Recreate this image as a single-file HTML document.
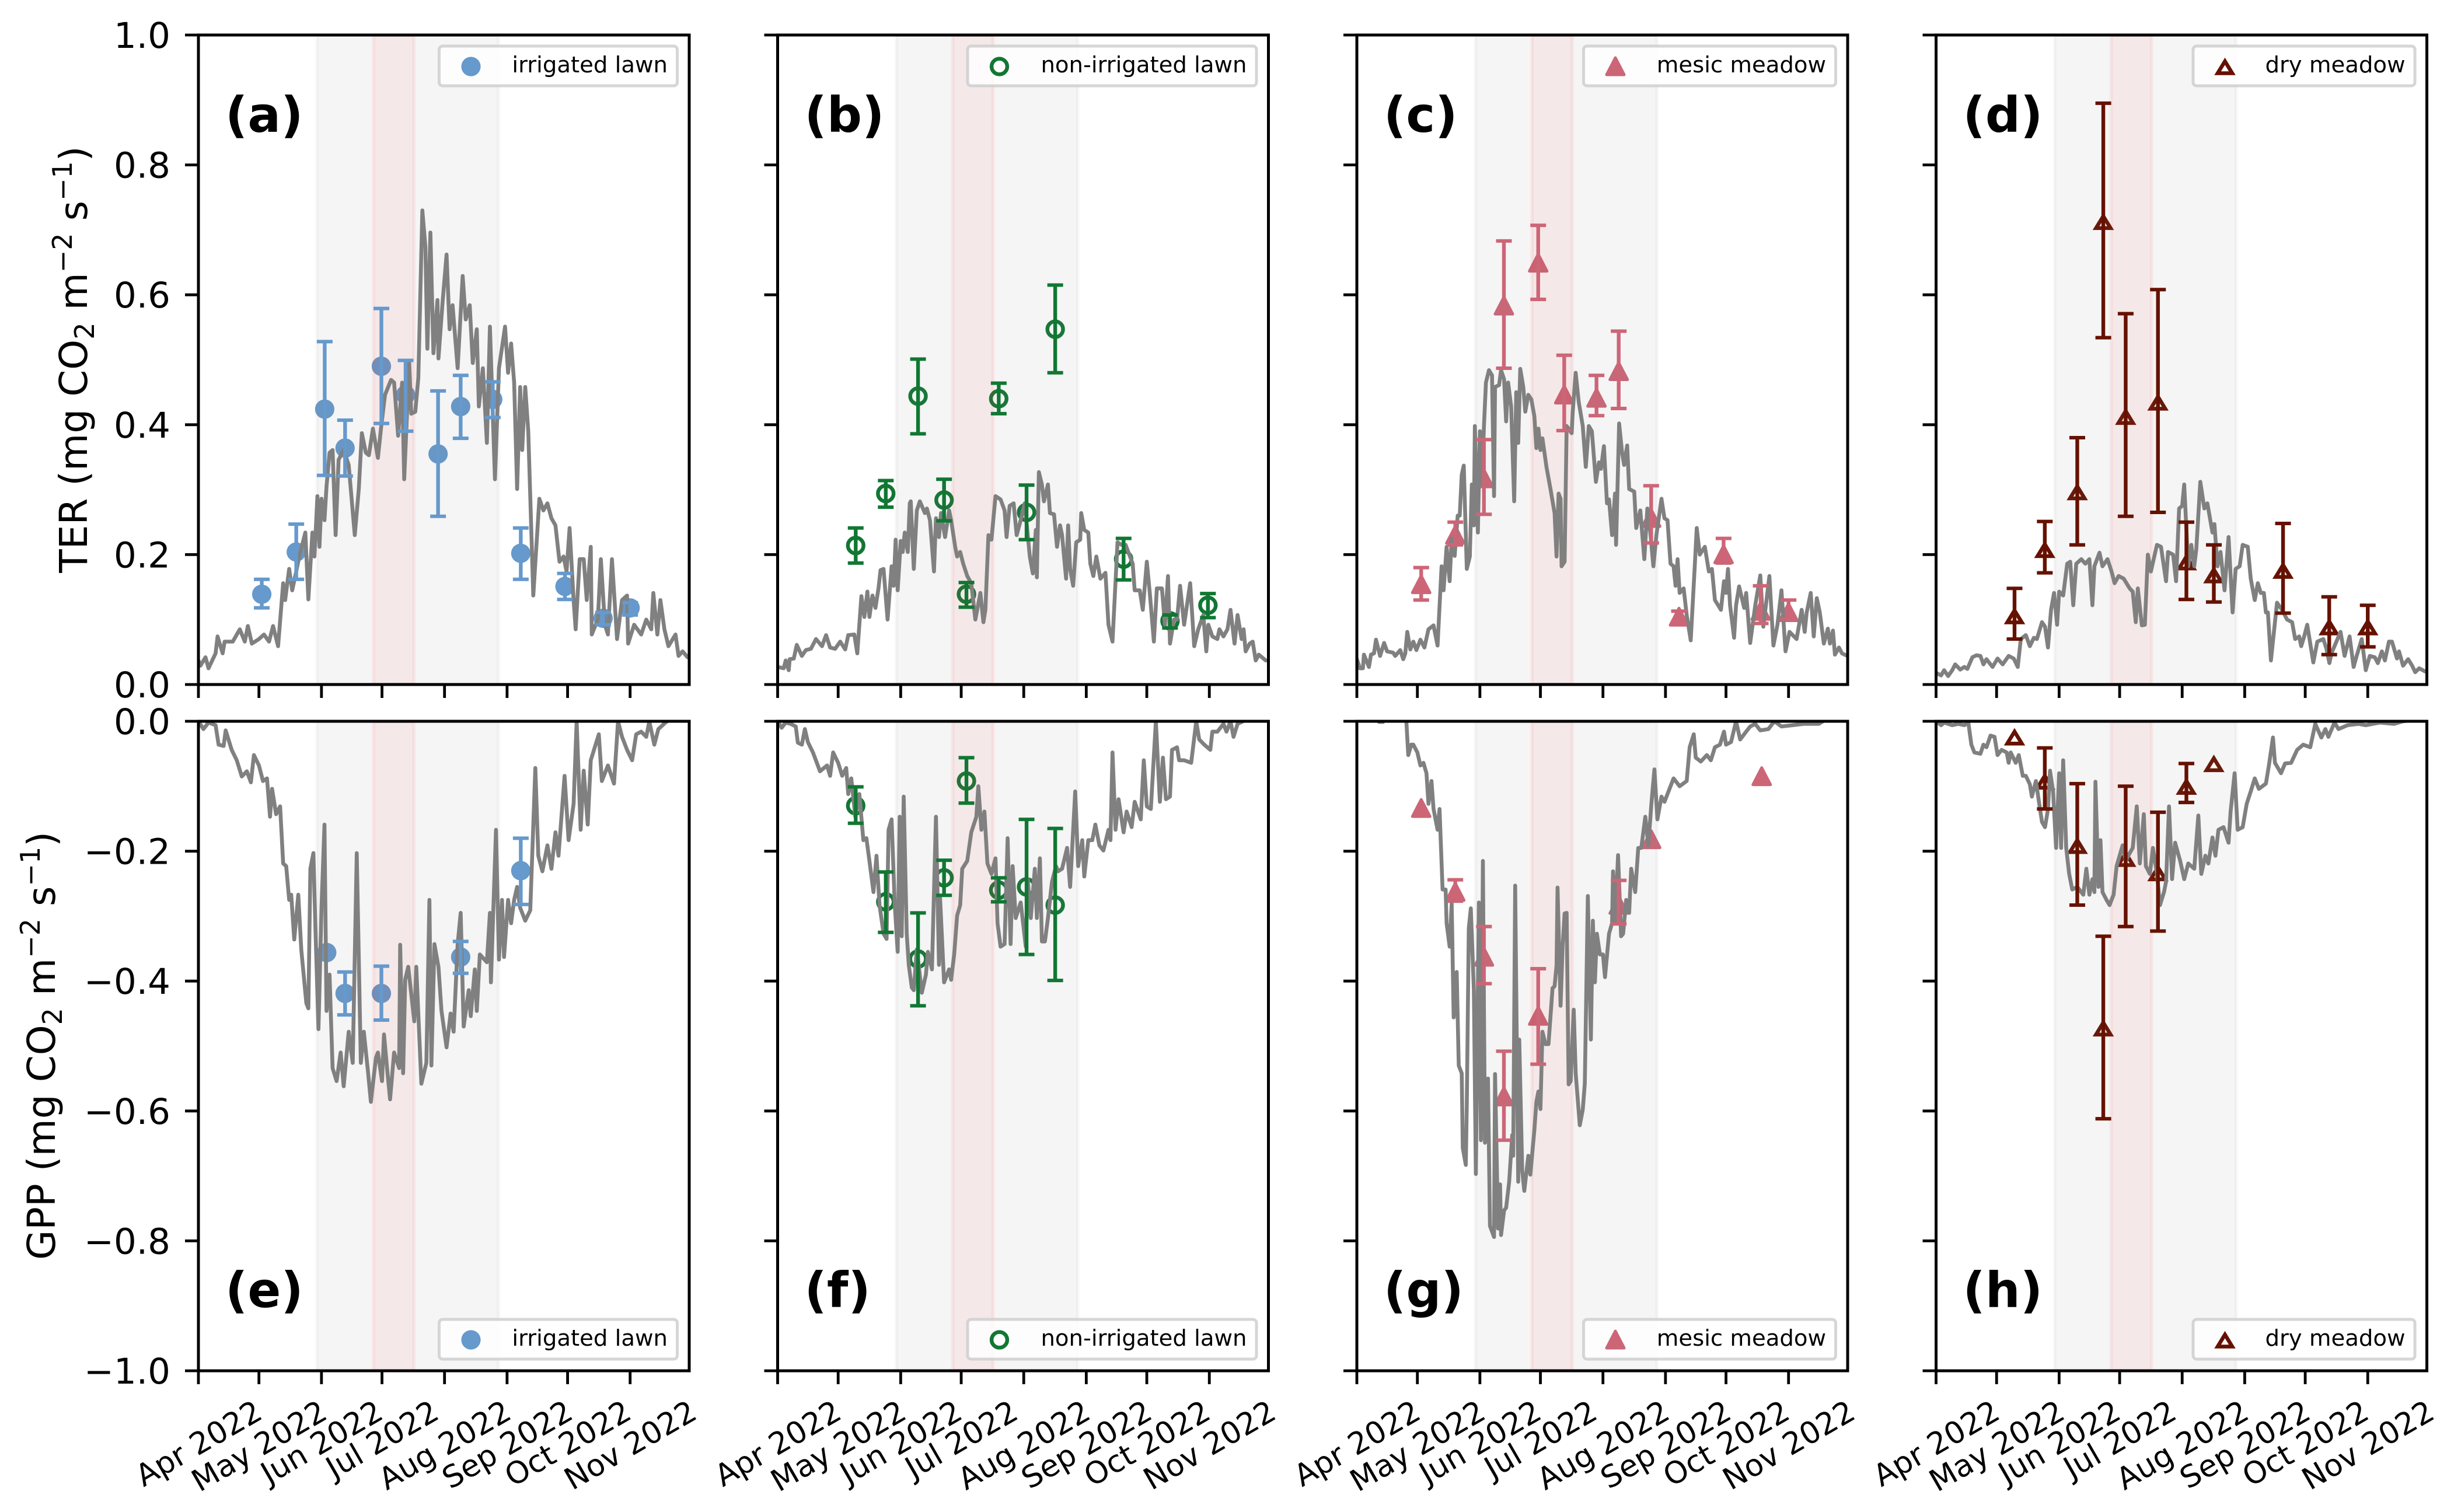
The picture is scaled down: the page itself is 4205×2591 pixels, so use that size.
<!DOCTYPE html>
<html lang="en">
<head>
<meta charset="utf-8">
<title>TER and GPP by land cover, Apr–Nov 2022</title>
<style>
html,body{margin:0;padding:0;background:#fff;}
svg{display:block;font-family:"DejaVu Sans","Liberation Sans",sans-serif;}
</style>
</head>
<body>
<svg id="chart" xmlns="http://www.w3.org/2000/svg" width="4205" height="2591" viewBox="0 0 4205 2591"></svg>
<script>
const tickDays=[0,30,61,91,122,153,183,214];
const tickLabels=["Apr 2022","May 2022","Jun 2022","Jul 2022","Aug 2022","Sep 2022","Oct 2022","Nov 2022"];
const terTicks=[0,0.2,0.4,0.6,0.8,1.0];
const terTickLabels=["0.0","0.2","0.4","0.6","0.8","1.0"];
const gppTicks=[0,-0.2,-0.4,-0.6,-0.8,-1.0];
const gppTickLabels=["0.0","−0.2","−0.4","−0.6","−0.8","−1.0"];
const greySpanDays=[58.8,148.8];
const redSpanDays=[86.8,106.8];

const aDays=[31.4,48.5,62.6,72.7,90.7,102.7,118.8,130,145.9,159.8,181.7,200.6,214];
const aMean=[.139,.204,.424,.364,.49,.446,.355,.428,.439,.202,.151,.102,.118];
const aLow=[.118,.162,.322,.321,.402,.39,.259,.379,.411,.162,.131,.092,.107];
const aHigh=[.162,.247,.528,.407,.579,.499,.452,.476,.466,.241,.171,.111,.126];
const bDays=[38.7,53.6,69.6,82.5,93.6,109.6,123.4,137.6,171.5,194.5,213.3];
const bMean=[.214,.294,.444,.284,.139,.44,.265,.547,.193,.098,.122];
const bLow=[.187,.273,.386,.252,.119,.417,.223,.48,.161,.087,.103];
const bHigh=[.241,.314,.501,.316,.157,.464,.307,.615,.225,.107,.14];
const cDays=[31.9,48.8,63,72.9,89.9,102.8,118.8,129.8,145.9,159.7,181.8,200.2,214];
const cMean=[.154,.23,.317,.583,.649,.446,.441,.482,.256,.104,.2,.113,.111];
const cLow=[.13,.215,.262,.487,.593,.391,.414,.425,.218,.094,.187,.094,.101];
const cHigh=[.18,.25,.377,.683,.707,.507,.476,.544,.306,.113,.225,.152,.13];
const dDays=[38.9,53.9,70,82.9,94,110,124.1,137.7,172,194.9,214];
const dMean=[.106,.208,.297,.713,.413,.435,.189,.169,.176,.089,.089];
const dLow=[.07,.172,.215,.534,.259,.265,.131,.127,.11,.046,.058];
const dHigh=[.148,.251,.38,.895,.571,.608,.25,.215,.248,.135,.122];
const eDays=[63.6,72.7,90.7,130,159.8];
const eMean=[-.356,-.419,-.419,-.363,-.23];
const eLow=[null,-.452,-.46,-.388,-.282];
const eHigh=[null,-.386,-.377,-.339,-.18];
const fDays=[38.7,53.6,69.6,82.5,93.6,109.6,123.4,137.6];
const fMean=[-.13,-.278,-.366,-.241,-.092,-.26,-.255,-.283];
const fLow=[-.157,-.325,-.438,-.268,-.126,-.278,-.359,-.399];
const fHigh=[-.101,-.232,-.295,-.214,-.056,-.241,-.151,-.165];
const gDays=[31.9,48.8,63,72.9,89.9,129.8,145.9,200.7];
const gMean=[-.134,-.263,-.363,-.578,-.454,-.283,-.182,-.085];
const gLow=[null,-.277,-.404,-.645,-.528,-.312,null,null];
const gHigh=[null,-.244,-.316,-.508,-.381,-.245,null,null];
const hDays=[38.9,53.9,70,82.9,94,110,124.1,137.7];
const hMean=[-.024,-.092,-.191,-.472,-.211,-.233,-.1,-.065];
const hLow=[null,-.135,-.283,-.612,-.316,-.323,-.125,null];
const hHigh=[null,-.041,-.096,-.331,-.1,-.14,-.065,null];

const lineA=[[0,.037],[1,.029],[3.5,.042],[5,.025],[8.5,.048],[9.5,.074],[12,.048],[13,.066],[17,.066],[20.5,.085],[23,.066],[24.5,.09],[26.5,.063],[30,.07],[32.5,.077],[35,.066],[37,.09],[39.5,.059],[42,.156],[43,.13],[45,.178],[46.5,.145],[48.5,.174],[50,.197],[53,.234],[54.5,.131],[56.5,.234],[57.5,.197],[59,.29],[60,.212],[61,.286],[62.5,.253],[63.5,.305],[65,.357],[66.5,.361],[68,.23],[69.5,.346],[72,.361],[74.5,.338],[77.5,.23],[79.5,.301],[81,.387],[83,.357],[84.5,.353],[86.5,.394],[89,.349],[90.5,.394],[92.5,.446],[95.5,.469],[97,.465],[99,.383],[101,.465],[102,.316],[104.5,.495],[105.5,.417],[107.5,.42],[109,.472],[111,.73],[112.5,.674],[113.5,.517],[115,.696],[116.5,.51],[118.5,.592],[119,.502],[121,.588],[123,.662],[124.5,.547],[126,.584],[128.5,.487],[131,.629],[132.5,.562],[134.5,.584],[136,.495],[138,.547],[139,.428],[141,.487],[143,.372],[144.5,.551],[147,.316],[149,.487],[152,.551],[153.5,.48],[155,.525],[156.5,.465],[158,.301],[159.5,.458],[160.5,.361],[162,.458],[163.5,.39],[166,.137],[169,.286],[171,.268],[173,.279],[175,.256],[177,.245],[179,.189],[181,.197],[182.5,.174],[184,.241],[186,.13],[187,.085],[189,.193],[191,.193],[192.5,.13],[194.5,.212],[195,.077],[198,.1],[199.5,.193],[201.5,.092],[203,.077],[205,.193],[207.5,.07],[210,.13],[212.5,.137],[213,.063],[216,.092],[219.5,.077],[222,.1],[224.5,.085],[225.5,.141],[227.5,.077],[229,.13],[231,.085],[233,.059],[236.5,.077],[238,.044],[240,.051],[242.5,.042]];
const lineB=[[0,.027],[3,.025],[4,.037],[5.5,.022],[6,.039],[8,.04],[9.5,.061],[12,.044],[14,.053],[16.5,.055],[19,.07],[22,.059],[24,.076],[26,.057],[28.5,.055],[31,.066],[33.5,.054],[35,.076],[38,.077],[39.5,.048],[41.5,.136],[43,.104],[44.5,.143],[45.5,.104],[47,.137],[48.5,.118],[50,.148],[51,.176],[52.5,.178],[54.5,.1],[56.5,.182],[57.5,.152],[58.5,.223],[59.5,.145],[61,.221],[62,.204],[63,.234],[64.5,.204],[65.5,.279],[66,.282],[67.5,.178],[69,.268],[70.5,.282],[73,.264],[74,.271],[75.5,.253],[77.5,.174],[78.5,.256],[80,.227],[81,.264],[83,.227],[85,.268],[86,.253],[88,.212],[89,.197],[90.5,.204],[92,.186],[94,.167],[96,.156],[98,.1],[100.5,.141],[102,.096],[103,.115],[104.5,.23],[106,.223],[108,.29],[110.5,.285],[112.5,.268],[113.5,.227],[115,.275],[117,.279],[118.5,.23],[120.5,.253],[122.5,.279],[125,.197],[126.5,.171],[128,.238],[128.5,.165],[129.5,.327],[131,.308],[132,.282],[134,.308],[135,.264],[137,.262],[138.5,.212],[140,.245],[141,.23],[143,.163],[144,.245],[145,.178],[146.5,.152],[148,.219],[150,.223],[150.5,.264],[152,.238],[154,.234],[155,.186],[156.5,.167],[158,.197],[160,.163],[162.5,.172],[164,.092],[166,.066],[168.5,.219],[170.5,.215],[172.5,.215],[176,.186],[177,.145],[179.5,.145],[181,.115],[183,.189],[184.5,.141],[186.5,.066],[188,.148],[190.5,.148],[192,.092],[193.5,.167],[194.5,.063],[196.5,.1],[198,.1],[199.5,.152],[201.5,.092],[204.5,.156],[206.5,.059],[208.5,.085],[211,.107],[212.5,.051],[213.5,.092],[215.5,.074],[218,.07],[219,.085],[221,.074],[223,.085],[224.5,.115],[226.5,.063],[228,.107],[230,.07],[231,.085],[232,.051],[234,.063],[235.5,.066],[237,.037],[238.5,.046],[242,.037]];
const lineC=[[0,.039],[1.5,.025],[3,.025],[3.5,.046],[6,.027],[7,.046],[8.5,.048],[9.5,.069],[11.5,.044],[13.5,.064],[15,.051],[18,.049],[19,.044],[21.5,.053],[23,.039],[24,.048],[25,.081],[26.5,.054],[28,.066],[29.5,.053],[31.5,.069],[33.5,.057],[35.5,.085],[38,.091],[40,.06],[42,.182],[43,.145],[44.5,.212],[46,.159],[47,.225],[48.5,.198],[50,.26],[51,.26],[52,.323],[53,.337],[54.5,.178],[56,.197],[57,.308],[58,.245],[58.5,.398],[60,.234],[61,.39],[62,.308],[63,.398],[64,.465],[65.5,.484],[67,.476],[68,.29],[68.5,.458],[70.5,.461],[71.5,.484],[73,.47],[74,.405],[75,.465],[76.5,.428],[78,.282],[79,.45],[80,.372],[81,.486],[82.5,.458],[83.5,.42],[85,.446],[86.5,.439],[88,.413],[89,.364],[90,.394],[91,.361],[92,.379],[94,.335],[96,.301],[98,.264],[99,.197],[100,.294],[101,.286],[101.5,.182],[103,.189],[104,.398],[106.5,.387],[107,.42],[108.5,.48],[110,.435],[112,.398],[113.5,.335],[115,.398],[116.5,.39],[118.5,.312],[120,.342],[121,.332],[122.5,.367],[124,.279],[125,.285],[126.5,.23],[128,.294],[128.5,.215],[130,.402],[131.5,.357],[132.5,.338],[134,.368],[135,.301],[137.5,.297],[138.5,.241],[140.5,.268],[142.5,.193],[144,.271],[145.5,.234],[147,.182],[148.5,.23],[151,.286],[152.5,.256],[154,.253],[155.5,.186],[157,.182],[158,.152],[159,.193],[160,.141],[162,.148],[163.5,.107],[165.5,.068],[167.5,.182],[168.5,.241],[170,.2],[172.5,.212],[174.5,.174],[176,.178],[177.5,.13],[180.5,.115],[182,.159],[183,.141],[184,.178],[185,.122],[187,.072],[188,.122],[189.5,.151],[192,.118],[193,.141],[195,.064],[197.5,.122],[200,.168],[201.5,.089],[204.5,.167],[206.5,.06],[208.5,.092],[210.5,.145],[212.5,.051],[214.5,.081],[218,.07],[220.5,.115],[222,.081],[223,.111],[225,.141],[226.5,.074],[228,.133],[229.5,.111],[231.5,.063],[233.5,.086],[234.5,.063],[236,.083],[237,.046],[239,.057],[240.5,.048],[242.5,.045]];
const lineD=[[0,.018],[2.5,.014],[4,.022],[6,.013],[8,.022],[9.5,.031],[12,.023],[14,.027],[15.5,.024],[18,.042],[20,.045],[22,.044],[23.5,.031],[25,.039],[28,.027],[30.5,.04],[33,.031],[36,.044],[38.5,.04],[40.5,.027],[42,.07],[44.5,.076],[46.5,.059],[48.5,.072],[50,.07],[52.5,.096],[54,.089],[55.5,.057],[57,.115],[58.5,.141],[60,.092],[61,.143],[63,.137],[65,.186],[66.5,.189],[68,.122],[69.5,.186],[72,.193],[74,.186],[76,.193],[77.5,.122],[78.5,.182],[81,.203],[82.5,.182],[85,.193],[87,.174],[88.5,.156],[90.5,.167],[93,.163],[96,.148],[97.5,.143],[99,.096],[100,.148],[102,.091],[103.5,.092],[105,.2],[106.5,.174],[109.5,.215],[111.5,.212],[114,.159],[115,.204],[117.5,.2],[119,.159],[120.5,.271],[122,.275],[123,.308],[125,.182],[126.5,.215],[128,.182],[129,.208],[131,.312],[133,.271],[134.5,.279],[137,.234],[138,.247],[139.5,.182],[141,.204],[143,.145],[145,.227],[147,.111],[148.5,.178],[150.5,.182],[152,.215],[154.5,.212],[156,.163],[158,.13],[159.5,.156],[161,.141],[162.5,.141],[163.5,.111],[164.5,.111],[166,.037],[169,.126],[171.5,.115],[174,.1],[176.5,.096],[178,.07],[180,.074],[181,.059],[182.5,.074],[184,.092],[187,.034],[189,.066],[192,.07],[193.5,.055],[195,.033],[196,.048],[200.5,.081],[202.5,.044],[205,.074],[207,.027],[208.5,.044],[211,.07],[213,.022],[215,.044],[217.5,.042],[219,.033],[221,.051],[222.5,.037],[224.5,.066],[226,.066],[228.5,.04],[229.5,.051],[231.5,.029],[234,.039],[236,.029],[237.5,.019],[239.5,.025],[242.5,.02]];
const lineE=[[0,0],[2.5,-.012],[5,-.002],[8.5,-.006],[10,-.036],[12.5,-.038],[13.5,-.014],[16.5,-.044],[19,-.06],[21.5,-.085],[24,-.077],[26,-.094],[27.5,-.052],[30,-.068],[32,-.092],[34,-.088],[35.5,-.147],[36.5,-.104],[38.5,-.143],[40.5,-.131],[42,-.219],[43.5,-.223],[45,-.275],[46,-.267],[47.5,-.336],[49.5,-.267],[51,-.352],[53.5,-.434],[54.5,-.442],[55.5,-.227],[57,-.203],[58,-.319],[59.5,-.474],[61,-.287],[62.5,-.159],[63.5,-.446],[65,-.39],[66.5,-.534],[68.5,-.554],[70.5,-.51],[72,-.562],[74.5,-.478],[76.5,-.526],[78.5,-.203],[80.5,-.526],[82,-.478],[84,-.538],[85.5,-.586],[88,-.518],[89,-.51],[91,-.554],[92,-.482],[93.5,-.534],[95,-.582],[97,-.51],[99.5,-.534],[100,-.344],[101.5,-.542],[102.5,-.398],[104,-.378],[107,-.462],[108,-.378],[110.5,-.558],[113,-.526],[114.5,-.275],[115.5,-.53],[117,-.343],[119,-.378],[120.5,-.446],[123,-.502],[125,-.45],[126.5,-.478],[128.5,-.343],[130,-.295],[131.5,-.47],[134,-.414],[135,-.454],[137,-.382],[138,-.446],[139.5,-.359],[143,-.371],[144.5,-.295],[145,-.402],[147.5,-.167],[149,-.367],[150.5,-.275],[151.5,-.363],[153.5,-.275],[155,-.311],[156.5,-.275],[158,-.255],[159.5,-.287],[162,-.307],[164.5,-.291],[167,-.072],[168.5,-.207],[170.5,-.231],[173,-.191],[175,-.227],[177,-.171],[178.5,-.207],[181.5,-.084],[183.5,-.183],[186,-.127],[187.5,0],[189.5,-.167],[191,-.076],[193,-.159],[194.5,-.06],[196.5,-.04],[198.5,-.02],[200,-.092],[203,-.068],[206,-.096],[208,0],[210,-.024],[212.5,-.044],[215,-.06],[217,-.02],[219.5,-.016],[222,-.024],[223.5,0],[226,-.036],[228,-.012],[231.5,-.002],[235,.006],[243,.006]];
const lineF=[[0,0],[2,-.01],[4,-.002],[6.5,-.004],[9,-.008],[10,-.033],[12,-.036],[13.5,-.012],[15,-.032],[17.5,-.048],[21,-.077],[24.5,-.068],[26,-.084],[27.5,-.048],[30,-.064],[32,-.084],[34,-.072],[35,-.112],[36.5,-.088],[38.5,-.147],[40.5,-.112],[42.5,-.183],[44,-.18],[45.5,-.215],[47.5,-.263],[49,-.207],[50.5,-.283],[52.5,-.327],[54,-.335],[55,-.167],[56.5,-.151],[58,-.279],[59.5,-.355],[60.5,-.147],[61.5,-.331],[62.5,-.116],[64,-.327],[65,-.375],[66.5,-.41],[67.5,-.414],[69,-.351],[71.5,-.418],[73.5,-.39],[74.5,-.355],[76.5,-.382],[78.5,-.147],[80,-.375],[80.5,-.271],[82.5,-.402],[85,-.382],[86,-.398],[87.5,-.359],[89,-.299],[90.5,-.283],[91.5,-.227],[94,-.215],[96,-.171],[98.5,-.147],[99.5,-.1],[101,-.167],[102.5,-.139],[104,-.219],[106,-.235],[108,-.211],[109,-.311],[110.5,-.347],[112.5,-.343],[114,-.18],[115.5,-.343],[116.5,-.223],[118,-.303],[120.5,-.279],[123,-.347],[124,-.243],[125.5,-.303],[127.5,-.227],[128.5,-.303],[130,-.211],[131,-.339],[132.5,-.339],[134,-.303],[136,-.247],[138,-.223],[139,-.231],[141,-.227],[143.5,-.195],[145,-.255],[147.5,-.108],[149,-.223],[151,-.183],[152,-.239],[154,-.183],[156,-.183],[157.5,-.159],[159.5,-.191],[161.5,-.199],[164,-.167],[165,-.183],[166,-.048],[167.5,-.167],[169,-.12],[171.5,-.171],[173,-.139],[175.5,-.163],[177,-.124],[180,-.151],[181.5,-.06],[183,-.131],[185,-.135],[187.5,0],[189.5,-.124],[191,-.056],[192.5,-.12],[194.5,-.116],[195.5,-.044],[198,-.04],[199,-.06],[201.5,-.06],[205,-.064],[207.5,0],[209,-.028],[211.5,-.036],[214.5,-.044],[215.5,-.016],[218,-.016],[221,-.004],[222.5,-.016],[224.5,0],[226,-.024],[228,-.004],[232,.002],[243,.004]];
const lineG=[[0,.02],[10,.01],[11,-.001],[13,-.001],[14,.01],[23,.01],[24.5,.002],[25.5,-.052],[27,-.036],[28,-.036],[30,-.048],[31.5,-.068],[33,-.064],[34.5,-.08],[35.5,-.127],[37,-.092],[38,-.135],[40,-.167],[41,-.135],[42.5,-.259],[44,-.259],[44.5,-.311],[46,-.347],[47,-.28],[48,-.456],[49.5,-.386],[50.5,-.53],[52,-.542],[52.5,-.657],[54,-.683],[54.5,-.59],[55.5,-.319],[56.5,-.288],[58,-.414],[59,-.697],[60.5,-.279],[61.5,-.645],[62.5,-.215],[63.5,-.649],[65,-.55],[66,-.777],[68,-.794],[68.5,-.543],[70,-.781],[71,-.713],[71.5,-.791],[73,-.753],[74,-.749],[75.5,-.709],[77,-.637],[77.5,-.669],[78.5,-.253],[80,-.709],[80.5,-.49],[82,-.693],[83,-.723],[85,-.669],[86,-.698],[88,-.629],[89,-.586],[90,-.57],[91,-.597],[92,-.478],[93.5,-.497],[95,-.497],[97,-.411],[98,-.408],[99,-.376],[99.5,-.256],[101,-.438],[102,-.347],[103,-.296],[104,-.295],[105,-.559],[106,-.554],[107.5,-.444],[108.5,-.542],[110.5,-.622],[112,-.598],[113,-.558],[114.5,-.269],[116,-.49],[117,-.307],[118,-.402],[119,-.327],[120.5,-.359],[122,-.359],[123,-.394],[125,-.327],[126.5,-.311],[127,-.231],[128,-.311],[129.5,-.206],[131,-.331],[132,-.327],[133.5,-.275],[135,-.295],[136,-.227],[138,-.263],[139.5,-.195],[141,-.195],[143,-.147],[144.5,-.191],[146,-.127],[147.5,-.074],[149,-.151],[151,-.116],[152.5,-.124],[154,-.112],[157,-.088],[160,-.1],[163.5,-.092],[165,-.04],[167,-.02],[168,-.056],[170.5,-.062],[173.5,-.052],[175.5,-.06],[177.5,-.04],[180,-.036],[182,-.016],[183,-.036],[185.5,-.032],[188,0],[190,-.028],[193,-.016],[195,-.008],[197.5,-.004],[200,-.014],[204,-.012],[207,0],[210.5,-.008],[216,-.006],[221.5,-.004],[229,-.004],[232,.002],[243,.004]];
const lineH=[[0,0],[2.5,-.006],[4,-.002],[8,-.006],[11,-.004],[14,-.006],[16,-.002],[17.5,-.036],[19,-.048],[22,-.05],[23.5,-.036],[25,-.04],[27,-.022],[29,-.024],[30.5,-.052],[32.5,-.044],[35,-.048],[36,-.064],[37,-.048],[39.5,-.064],[41,-.052],[43,-.084],[44.5,-.084],[46.5,-.097],[47.5,-.116],[49.5,-.092],[51,-.124],[52.5,-.155],[54,-.163],[55.5,-.135],[56.5,-.076],[58,-.108],[59.5,-.195],[61,-.08],[62,-.195],[63,-.06],[64.5,-.195],[66,-.235],[67.5,-.259],[70,-.255],[73,-.267],[74.5,-.227],[76,-.267],[77.5,-.243],[78.5,-.263],[79,-.093],[80.5,-.255],[81.5,-.183],[82.5,-.263],[84.5,-.275],[86,-.283],[88,-.267],[89.5,-.223],[92.5,-.191],[94,-.215],[96,-.203],[97.5,-.195],[99.5,-.131],[101,-.219],[103,-.143],[104,-.223],[106,-.235],[107.5,-.195],[109.5,-.235],[111,-.283],[113,-.263],[114,-.247],[115.5,-.131],[117,-.243],[118.5,-.187],[121,-.215],[123,-.243],[125,-.219],[128,-.227],[130,-.145],[131.5,-.235],[133.5,-.207],[135,-.219],[137,-.179],[138.5,-.207],[140,-.167],[142.5,-.163],[145,-.187],[146,-.139],[148,-.08],[149.5,-.167],[152,-.163],[154,-.127],[156,-.108],[158,-.088],[160,-.104],[163.5,-.096],[165,-.068],[167,-.025],[168,-.064],[171,-.08],[173,-.065],[176,-.064],[179,-.044],[182,-.036],[185.5,-.04],[188,-.004],[191,-.025],[193,-.012],[194.5,-.024],[197.5,-.002],[199.5,-.012],[204,-.006],[209.5,-.004],[213,-.006],[220,-.002],[227,-.004],[231.5,0],[243,.004]];

const NS="http://www.w3.org/2000/svg";
const root=document.getElementById("chart");
const PANEL_W=841, DAY_MAX=243.3, TOP_Y0=60, TOP_Y1=1173, BOT_Y0=1236, BOT_Y1=2349;
const COLS=[340,1332.5,2325,3317.5];
const LEGEND_W=[408,495,432,380];
const TICK_LABEL_SIZE=61, X_LABEL_SIZE=52, TITLE_SIZE=66;

const panels=[
 {id:"a",col:0,row:0,days:aDays,mean:aMean,low:aLow,high:aHigh,line:lineA,color:"#6699CC",shape:"circle",hollow:false,legend:"irrigated lawn"},
 {id:"b",col:1,row:0,days:bDays,mean:bMean,low:bLow,high:bHigh,line:lineB,color:"#117733",shape:"circle",hollow:true,legend:"non-irrigated lawn"},
 {id:"c",col:2,row:0,days:cDays,mean:cMean,low:cLow,high:cHigh,line:lineC,color:"#CC6677",shape:"triangle",hollow:false,legend:"mesic meadow"},
 {id:"d",col:3,row:0,days:dDays,mean:dMean,low:dLow,high:dHigh,line:lineD,color:"#661100",shape:"triangle",hollow:true,legend:"dry meadow"},
 {id:"e",col:0,row:1,days:eDays,mean:eMean,low:eLow,high:eHigh,line:lineE,color:"#6699CC",shape:"circle",hollow:false,legend:"irrigated lawn"},
 {id:"f",col:1,row:1,days:fDays,mean:fMean,low:fLow,high:fHigh,line:lineF,color:"#117733",shape:"circle",hollow:true,legend:"non-irrigated lawn"},
 {id:"g",col:2,row:1,days:gDays,mean:gMean,low:gLow,high:gHigh,line:lineG,color:"#CC6677",shape:"triangle",hollow:false,legend:"mesic meadow"},
 {id:"h",col:3,row:1,days:hDays,mean:hMean,low:hLow,high:hHigh,line:lineH,color:"#661100",shape:"triangle",hollow:true,legend:"dry meadow"}
];

function mk(tag,attrs,parent){
  const el=document.createElementNS(NS,tag);
  for(const k in attrs){el.setAttribute(k,attrs[k]);}
  (parent||root).appendChild(el);
  return el;
}
function xScale(col,day){return COLS[col]+day/DAY_MAX*PANEL_W;}
function yScale(row,v){
  if(row===0){return TOP_Y1-v*(TOP_Y1-TOP_Y0);}
  return BOT_Y0-v*(BOT_Y1-BOT_Y0);
}
function drawMarker(parent,shape,hollow,color,cx,cy,name){
  let el;
  if(shape==="circle"){
    el=mk("circle",{cx:cx,cy:cy,r:hollow?13.4:16.6,fill:hollow?"none":color,stroke:hollow?color:"none","stroke-width":hollow?6.5:0},parent);
  }else if(hollow){
    el=mk("polygon",{points:(cx)+","+(cy-9)+" "+(cx+12.5)+","+(cy+11.5)+" "+(cx-12.5)+","+(cy+11.5),fill:"none",stroke:color,"stroke-width":6.5,"stroke-linejoin":"miter"},parent);
  }else{
    el=mk("polygon",{points:(cx)+","+(cy-15)+" "+(cx+15)+","+(cy+14)+" "+(cx-15)+","+(cy+14),fill:color,stroke:color,"stroke-width":5,"stroke-linejoin":"round"},parent);
  }
  
  
  return el;
}

panels.forEach(function(p){
  const L=COLS[p.col], R=L+PANEL_W;
  const T=p.row===0?TOP_Y0:BOT_Y0, B=p.row===0?TOP_Y1:BOT_Y1;
  const g=mk("g",{});
  
  

  const clipId="clip-"+p.id;
  const defs=mk("defs",{},g);
  const cp=mk("clipPath",{id:clipId},defs);
  mk("rect",{x:L,y:T,width:PANEL_W,height:B-T},cp);

  const plot=mk("g",{"clip-path":"url(#"+clipId+")"},g);

  // markers lie beneath the shaded periods and the gray line
  p.days.forEach(function(day,i){
    if(p.mean[i]!==null){
      drawMarker(plot,p.shape,p.hollow,p.color,xScale(p.col,day),yScale(p.row,p.mean[i]),'point-'+p.id);
    }
  });

  const gx0=xScale(p.col,greySpanDays[0]), gx1=xScale(p.col,greySpanDays[1]);
  const greyRect=mk("rect",{x:gx0,y:T,width:gx1-gx0,height:B-T,fill:"#808080","fill-opacity":0.08,stroke:"#808080","stroke-opacity":0.06,"stroke-width":6},plot);
  
  
  const rx0=xScale(p.col,redSpanDays[0]), rx1=xScale(p.col,redSpanDays[1]);
  const redRect=mk("rect",{x:rx0,y:T,width:rx1-rx0,height:B-T,fill:"#ff2020","fill-opacity":0.06,stroke:"#ff2020","stroke-opacity":0.06,"stroke-width":6},plot);
  
  

  const pts=p.line.map(function(d){return xScale(p.col,d[0]).toFixed(1)+","+yScale(p.row,d[1]).toFixed(1);}).join(" ");
  const poly=mk("polyline",{points:pts,fill:"none",stroke:"#808080","stroke-width":6.6,"stroke-linejoin":"round","stroke-linecap":"round"},plot);
  
  

  // error bars sit on top of the gray line
  p.days.forEach(function(day,i){
    if(p.low[i]!==null&&p.high[i]!==null){
      const x=xScale(p.col,day);
      const y0=yScale(p.row,p.low[i]), y1=yScale(p.row,p.high[i]);
      const eg=mk("g",{stroke:p.color,fill:"none"},plot);
      
      
      mk("line",{x1:x,x2:x,y1:y0,y2:y1,"stroke-width":6.4},eg);
      mk("line",{x1:x-13.5,x2:x+13.5,y1:y0,y2:y0,"stroke-width":6},eg);
      mk("line",{x1:x-13.5,x2:x+13.5,y1:y1,y2:y1,"stroke-width":6},eg);
    }
  });

  // ticks
  const yTicks=p.row===0?terTicks:gppTicks;
  const yLabels=p.row===0?terTickLabels:gppTickLabels;
  yTicks.forEach(function(v,i){
    const y=yScale(p.row,v);
    const t=mk("line",{x1:L-23,x2:L,y1:y,y2:y,stroke:"#000","stroke-width":4.8},g);
    
    
    if(p.col===0){
      const lbl=mk("text",{x:L-48,y:y+22,"text-anchor":"end","font-size":TICK_LABEL_SIZE,fill:"#000"},g);
      lbl.textContent=yLabels[i];
      
      
    }
  });
  tickDays.forEach(function(day,i){
    const x=xScale(p.col,day);
    const t=mk("line",{x1:x,x2:x,y1:B,y2:B+23,stroke:"#000","stroke-width":4.8},g);
    
    
    if(p.row===1){
      const lbl=mk("text",{"text-anchor":"middle","font-size":X_LABEL_SIZE,fill:"#000"},g);
      lbl.textContent=tickLabels[i];
      
      
      const w=lbl.getComputedTextLength();
      const bh=w*0.5+X_LABEL_SIZE*0.76*0.866;
      const cy=2396+bh/2;
      lbl.setAttribute("transform","translate("+x+","+cy+") rotate(-30) translate(0,"+(X_LABEL_SIZE*0.36)+")");
    }
  });

  // axes frame
  const frame=mk("rect",{x:L,y:T,width:PANEL_W,height:B-T,fill:"none",stroke:"#000","stroke-width":5},g);
  
  

  // panel tag
  const tag=mk("text",{x:L+46,y:p.row===0?226:2240,"font-size":84,"font-weight":"bold",fill:"#000"},g);
  tag.textContent="("+p.id+")";
  
  

  // legend
  const lw=LEGEND_W[p.col];
  const lh=68;
  const lx=R-20.5-lw;
  const ly=p.row===0?T+19:B-20-lh;
  const lg=mk("g",{},g);
  
  
  mk("rect",{x:lx,y:ly,width:lw,height:lh,rx:6,ry:6,fill:"#fff","fill-opacity":0.8,stroke:"#cccccc","stroke-width":5,"stroke-opacity":0.8},lg);
  drawMarker(lg,p.shape,p.hollow,p.color,lx+54.5,ly+35,'legend-marker');
  const lt=mk("text",{x:R-37,y:ly+45,"text-anchor":"end","font-size":38.6,fill:"#000"},lg);
  lt.textContent=p.legend;
  
  
});

function yTitle(name,x,cy,head){
  const t=mk("text",{transform:"translate("+x+","+cy+") rotate(-90)","text-anchor":"middle","font-size":TITLE_SIZE,fill:"#000"});
  
  
  const parts=[[head+" (mg CO",0,TITLE_SIZE],["2",12,46],[" m",-12,TITLE_SIZE],["−2",-26,46],[" s",26,TITLE_SIZE],["−1",-26,46],[")",26,TITLE_SIZE]];
  parts.forEach(function(s){
    const sp=mk("tspan",{dy:s[1],"font-size":s[2]},t);
    sp.textContent=s[0];
  });
}
yTitle('ter-axis-title',149,616,"TER");
yTitle('gpp-axis-title',94,1792,"GPP");
</script>
</body>
</html>
